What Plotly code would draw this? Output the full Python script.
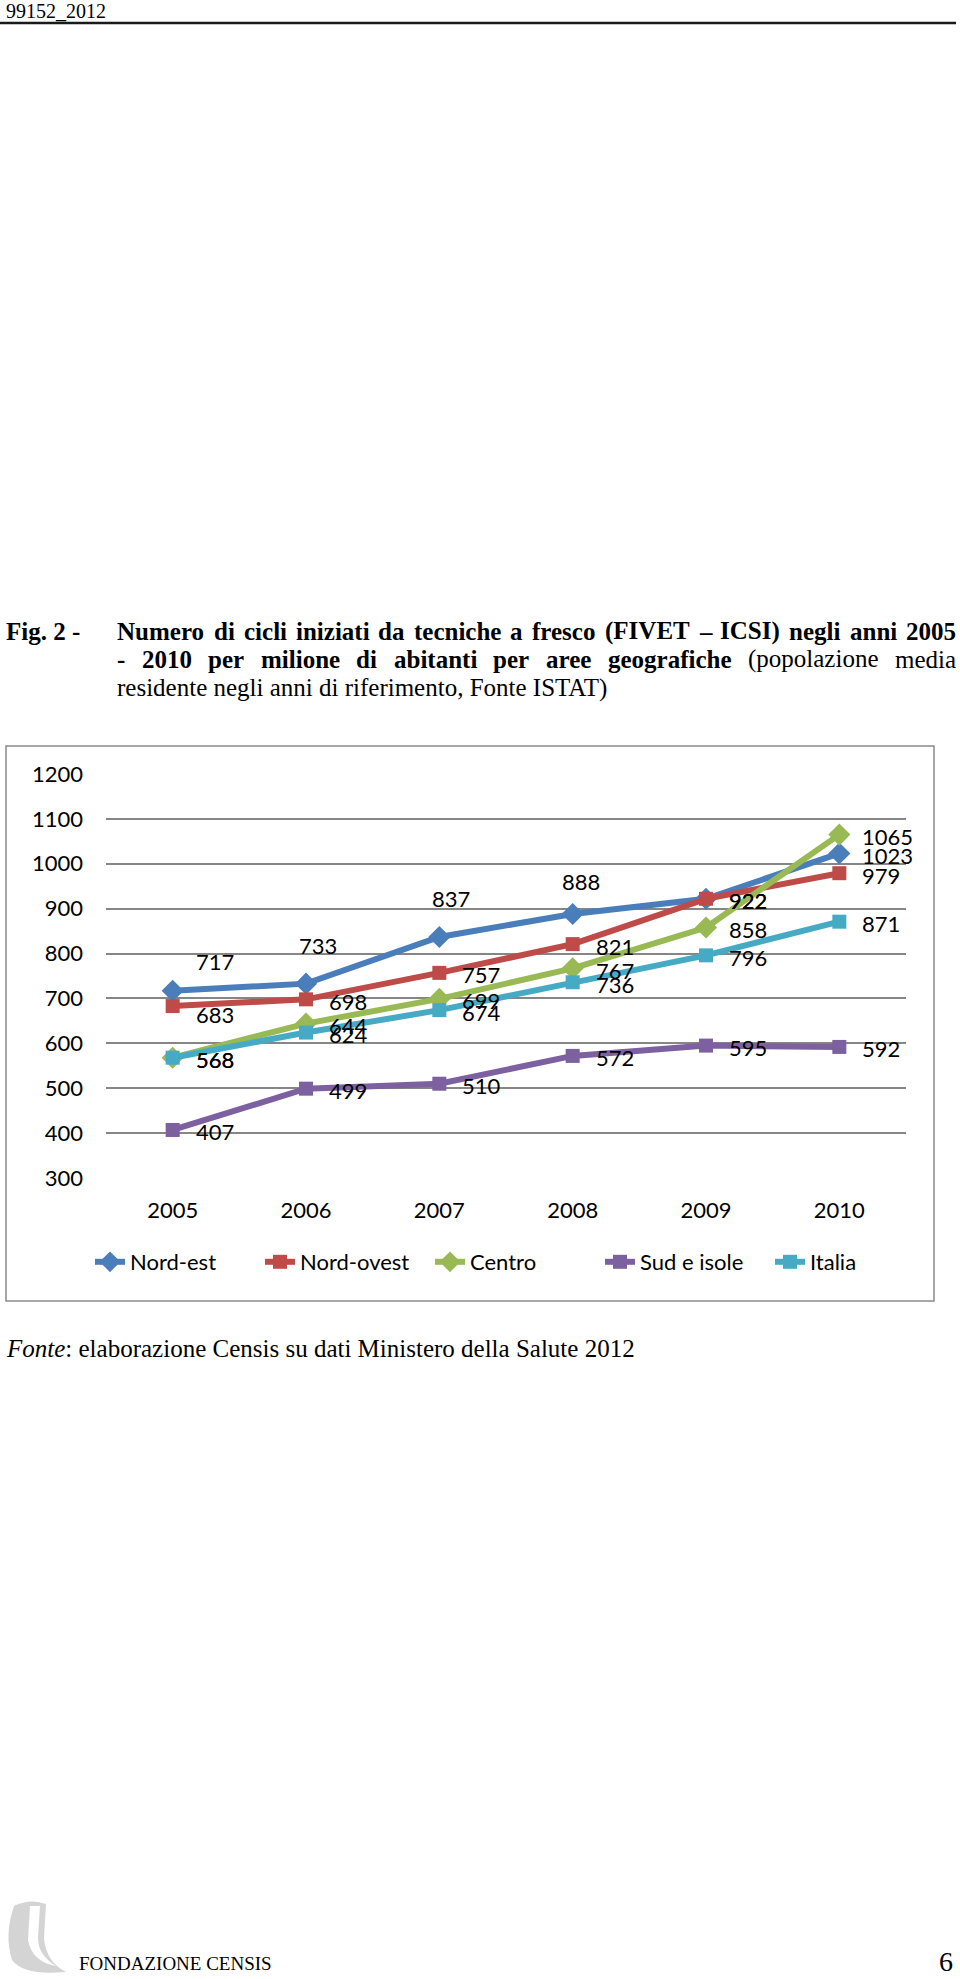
import plotly.graph_objects as go

# ---------------- data ----------------
YEARS = ["2005", "2006", "2007", "2008", "2009", "2010"]
NORD_EST = [717, 733, 837, 888, 922, 1023]
NORD_OVEST = [683, 698, 757, 821, 922, 979]
CENTRO = [568, 644, 699, 767, 858, 1065]
SUD_ISOLE = [407, 499, 510, 572, 595, 592]
ITALIA = [568, 624, 674, 736, 796, 871]
Y_TICKS = [300, 400, 500, 600, 700, 800, 900, 1000, 1100, 1200]

SERIES_NAMES = ["Nord-est", "Nord-ovest", "Centro", "Sud e isole", "Italia"]
SERIES_VALUES = [NORD_EST, NORD_OVEST, CENTRO, SUD_ISOLE, ITALIA]
SERIES_COLORS = ["#4A7EBB", "#BE4B48", "#98B954", "#7D60A0", "#46AAC5"]
SERIES_SYMBOLS = ["diamond", "square", "diamond", "square", "square"]
SERIES_SIZES = [17, 14, 17, 14, 14]

# label placement (style): default right of point; some labels adjusted
DEFAULT_LABEL = ("left", 21, -2)
LABEL_OVERRIDES = {
    (0, 0): ("left", 21, 29),
    (0, 1): ("center", 12, 38),
    (0, 2): ("center", 12, 38),
    (0, 3): ("center", 8, 33),
    (1, 0): ("left", 21, -8),
}

W, H = 960, 1979
L, R, T, B = 106, 906, 774, 1178   # plot area in page pixels

CHART_FONT = "Lato, 'Open Sans', sans-serif"
SERIF = "'Liberation Serif', 'Times New Roman', serif"


def px(x):
    return (x - L) / (R - L)


def py(y):
    return (B - y) / (B - T)


# Times metrics for justification
TB = {' ': 250, '(': 333, ')': 333, '-': 333, '–': 500, ',': 250, '.': 250,
      'A': 722, 'C': 722, 'E': 667, 'F': 611, 'I': 389, 'N': 722, 'S': 556,
      'T': 667, 'V': 722, 'a': 500, 'b': 556, 'c': 444, 'd': 556, 'e': 444,
      'f': 333, 'g': 500, 'h': 556, 'i': 278, 'l': 278, 'm': 833, 'n': 556,
      'o': 500, 'p': 556, 'r': 444, 's': 389, 't': 333, 'u': 556, 'z': 444}
TR = {' ': 250, '(': 333, ')': 333, ',': 250, 'a': 444, 'b': 500, 'c': 444,
      'd': 500, 'e': 444, 'f': 333, 'g': 500, 'h': 500, 'i': 278, 'l': 278,
      'm': 778, 'n': 500, 'o': 500, 'p': 500, 'r': 333, 's': 389, 't': 278,
      'u': 500, 'z': 444}


def tw(word, bold, size):
    table = TB if bold else TR
    return sum(table.get(c, 500) for c in word) * size / 1000.0


TITLE_SIZE = 25
LINE1 = [(w, True) for w in "Numero di cicli iniziati da tecniche a fresco (FIVET – ICSI) negli anni 2005".split(" ")]
LINE2 = [(w, True) for w in "- 2010 per milione di abitanti per aree geografiche".split(" ")] + \
        [(w, False) for w in "(popolazione media".split(" ")]
LINE3 = "residente negli anni di riferimento, Fonte ISTAT)"

fig = go.Figure()

for i, (name, vals) in enumerate(zip(SERIES_NAMES, SERIES_VALUES)):
    fig.add_trace(go.Scatter(
        x=YEARS, y=vals, name=name, mode="lines+markers",
        line=dict(color=SERIES_COLORS[i], width=6),
        marker=dict(symbol=SERIES_SYMBOLS[i], size=SERIES_SIZES[i], color=SERIES_COLORS[i]),
        hoverinfo="skip",
    ))

annotations = []
for i, vals in enumerate(SERIES_VALUES):
    for j, v in enumerate(vals):
        anchor, xs, ys = LABEL_OVERRIDES.get((i, j), DEFAULT_LABEL)
        annotations.append(dict(
            x=j, y=v, xref="x", yref="y", text=str(v), showarrow=False,
            xanchor=anchor, yanchor="middle", xshift=xs, yshift=ys,
            font=dict(family=CHART_FONT, size=22, color="#000"),
        ))


def add_text(text, x, y, size, anchor="left", family=SERIF, color="#000"):
    annotations.append(dict(
        x=px(x), y=py(y), xref="paper", yref="paper", text=text, showarrow=False,
        xanchor=anchor, yanchor="middle", font=dict(family=family, size=size, color=color),
        borderpad=0,
    ))


def justify(words, y, x0=116, x1=955, size=TITLE_SIZE):
    widths = [tw(w, b, size) for w, b in words]
    gap = (x1 - x0 - sum(widths)) / (len(words) - 1)
    x = x0
    for (w, b), wd in zip(words, widths):
        add_text(("<b>%s</b>" % w) if b else w, x, y, size)
        x += wd + gap


# header
add_text("99152_2012", 5, 11, 20)
add_text("<b>Fig. 2 -</b>", 5, 631, TITLE_SIZE)
justify(LINE1, 631)
justify(LINE2, 659)
add_text(LINE3, 116, 688, TITLE_SIZE)
add_text("<i>Fonte</i>: elaborazione Censis su dati Ministero della Salute 2012", 5, 1348, 25)
add_text("FONDAZIONE CENSIS", 78, 1963, 19)
add_text("6", 954, 1961, 28, anchor="right")

shapes = [
    dict(type="line", xref="paper", yref="paper", x0=px(0), x1=px(956), y0=py(23), y1=py(23),
         line=dict(color="#1a1a1a", width=2.5)),
    dict(type="rect", xref="paper", yref="paper", x0=px(6), x1=px(934), y0=py(746), y1=py(1301),
         line=dict(color="#8a8a8a", width=1.5), fillcolor="rgba(0,0,0,0)", layer="below"),
]


def ppath(cmds):
    out = []
    for c, pts in cmds:
        s = c
        s += " ".join("%.5f,%.5f" % (px(a), py(b)) for a, b in pts)
        out.append(s)
    return " ".join(out) + " Z"


logo_shadow = ppath([("M", [(14, 1906)]), ("Q", [(4, 1935), (12, 1960)]),
                     ("Q", [(24, 1976), (66, 1972)]), ("Q", [(46, 1962), (44, 1938)]),
                     ("L", [(46, 1904)]), ("Q", [(30, 1898), (14, 1906)])])
logo_white = ppath([("M", [(30, 1906)]), ("L", [(40, 1906)]), ("L", [(38, 1938)]),
                    ("Q", [(38, 1955), (56, 1966)]), ("Q", [(32, 1962), (28, 1940)])])
shapes.append(dict(type="path", xref="paper", yref="paper", path=logo_shadow,
                   fillcolor="#d4d4d4", line=dict(width=0)))
shapes.append(dict(type="path", xref="paper", yref="paper", path=logo_white,
                   fillcolor="#ffffff", line=dict(width=0)))

fig.update_layout(
    width=W, height=H,
    margin=dict(l=L, r=W - R, t=T, b=H - B, autoexpand=False),
    paper_bgcolor="white", plot_bgcolor="white",
    showlegend=True,
    legend=dict(orientation="h", x=px(90), xanchor="left", y=py(1262), yanchor="middle",
                font=dict(family=CHART_FONT, size=22, color="#000"),
                entrywidth=125, bgcolor="rgba(0,0,0,0)", traceorder="normal"),
    xaxis=dict(type="category", range=[-0.5, 5.5], showgrid=False, zeroline=False,
               showline=False, ticks="", tickfont=dict(family=CHART_FONT, size=22, color="#000"),
               ticklabelstandoff=17, fixedrange=True),
    yaxis=dict(range=[300, 1200], tickvals=Y_TICKS, showgrid=True, gridcolor="#868686",
               gridwidth=2, zeroline=False, showline=False, ticks="",
               tickfont=dict(family=CHART_FONT, size=22, color="#000"),
               ticklabelstandoff=22, fixedrange=True),
    annotations=annotations,
    shapes=shapes,
)

fig.write_html("out.html")
